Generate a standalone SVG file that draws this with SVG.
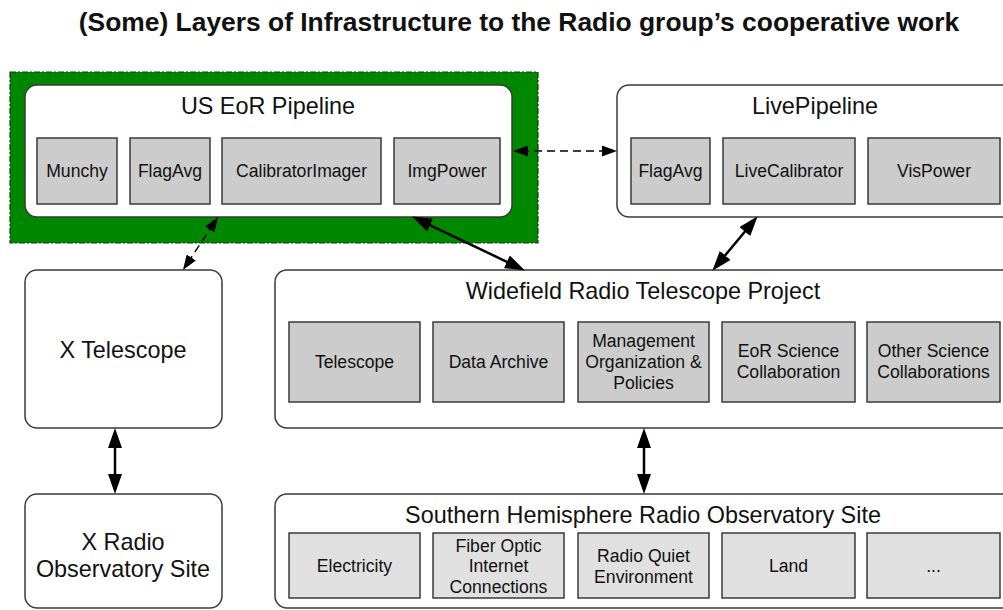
<svg xmlns="http://www.w3.org/2000/svg" width="1003" height="610" viewBox="0 0 1003 610">
  <style>
    text { font-family: "Liberation Sans", Arial, sans-serif; fill: #111; text-anchor: middle; }
    .title { font-size: 26.4px; font-weight: bold; }
    .head { font-size: 23.4px; }
    .item { font-size: 17.6px; }
    .layer { fill: #ffffff; stroke: #3a3a3a; stroke-width: 1.5; }
    .part { fill: #cccccc; stroke: #3a3a3a; stroke-width: 1.5; }
    .part-lt { fill: #e0e0e0; stroke: #3a3a3a; stroke-width: 1.5; }
    .link { fill: none; stroke: #000; stroke-width: 2.5; }
    .link-dash { fill: none; stroke: #000; stroke-width: 1.5; stroke-dasharray: 8 5; }
  </style>
  <defs>
    <marker id="arrow" viewBox="0 0 20 14" markerWidth="20" markerHeight="14" markerUnits="userSpaceOnUse" refX="9" refY="7" orient="auto-start-reverse">
      <path d="M0,0 L20,7 L0,14 z" fill="#000"/>
    </marker>
    <marker id="arrow-sm" viewBox="0 0 15 11" markerWidth="15" markerHeight="11" markerUnits="userSpaceOnUse" refX="7" refY="5.5" orient="auto-start-reverse">
      <path d="M0,0 L15,5.5 L0,11 z" fill="#000"/>
    </marker>
  </defs>

  <rect width="1003" height="610" fill="#ffffff"/>

  <text class="title" x="519" y="31">(Some) Layers of Infrastructure to the Radio group’s cooperative work</text>

  <!-- highlighted pipeline -->
  <g id="us-eor-pipeline">
    <rect x="10" y="72" width="528" height="171" fill="#008700" stroke="#163816" stroke-width="1.2" stroke-dasharray="6 2 2 2"/>
    <rect class="layer" x="25" y="85" width="487" height="132" rx="12"/>
    <text class="head" x="268" y="114">US EoR Pipeline</text>
    <rect class="part" x="37" y="138" width="80" height="66"/>
    <text class="item" x="77" y="177">Munchy</text>
    <rect class="part" x="130" y="138" width="80" height="66"/>
    <text class="item" x="170" y="177">FlagAvg</text>
    <rect class="part" x="222" y="138" width="159" height="66"/>
    <text class="item" x="301.5" y="177">CalibratorImager</text>
    <rect class="part" x="394" y="138" width="106" height="66"/>
    <text class="item" x="447" y="177">ImgPower</text>
  </g>

  <g id="live-pipeline">
    <rect class="layer" x="617" y="85" width="420" height="132" rx="12"/>
    <text class="head" x="815" y="114">LivePipeline</text>
    <rect class="part" x="631" y="138" width="79" height="66"/>
    <text class="item" x="670.5" y="177">FlagAvg</text>
    <rect class="part" x="723" y="138" width="132" height="66"/>
    <text class="item" x="789" y="177">LiveCalibrator</text>
    <rect class="part" x="868" y="138" width="132" height="66"/>
    <text class="item" x="934" y="177">VisPower</text>
  </g>

  <g id="x-telescope">
    <rect class="layer" x="25" y="270" width="197" height="158" rx="12"/>
    <text class="head" x="123" y="358">X Telescope</text>
  </g>

  <g id="widefield-project">
    <rect class="layer" x="275" y="270" width="760" height="158" rx="12"/>
    <text class="head" x="643" y="299">Widefield Radio Telescope Project</text>
    <rect class="part" x="289" y="322" width="131" height="80"/>
    <text class="item" x="354.5" y="368">Telescope</text>
    <rect class="part" x="433" y="322" width="131" height="80"/>
    <text class="item" x="498.5" y="368">Data Archive</text>
    <rect class="part" x="578" y="322" width="131" height="80"/>
    <text class="item" x="643.5" y="347">Management</text>
    <text class="item" x="643.5" y="368">Organization &amp;</text>
    <text class="item" x="643.5" y="389">Policies</text>
    <rect class="part" x="722" y="322" width="133" height="80"/>
    <text class="item" x="788.5" y="357">EoR Science</text>
    <text class="item" x="788.5" y="378">Collaboration</text>
    <rect class="part" x="867" y="322" width="133" height="80"/>
    <text class="item" x="933.5" y="357">Other Science</text>
    <text class="item" x="933.5" y="378">Collaborations</text>
  </g>

  <g id="x-radio-site">
    <rect class="layer" x="25" y="494" width="197" height="114" rx="12"/>
    <text class="head" x="123" y="550">X Radio</text>
    <text class="head" x="123" y="577">Observatory Site</text>
  </g>

  <g id="southern-site">
    <rect class="layer" x="275" y="494" width="760" height="114" rx="12"/>
    <text class="head" x="643" y="523">Southern Hemisphere Radio Observatory Site</text>
    <rect class="part-lt" x="289" y="533" width="131" height="65"/>
    <text class="item" x="354.5" y="572">Electricity</text>
    <rect class="part-lt" x="433" y="533" width="131" height="65"/>
    <text class="item" x="498.5" y="552">Fiber Optic</text>
    <text class="item" x="498.5" y="572">Internet</text>
    <text class="item" x="498.5" y="593">Connections</text>
    <rect class="part-lt" x="578" y="533" width="131" height="65"/>
    <text class="item" x="643.5" y="562">Radio Quiet</text>
    <text class="item" x="643.5" y="583">Environment</text>
    <rect class="part-lt" x="722" y="533" width="133" height="65"/>
    <text class="item" x="788.5" y="572">Land</text>
    <rect class="part-lt" x="867" y="533" width="133" height="65"/>
    <text class="item" x="933.5" y="572">...</text>
  </g>

  <g id="connectors">
    <line class="link-dash" x1="521" y1="151" x2="609" y2="151" marker-start="url(#arrow-sm)" marker-end="url(#arrow-sm)"/>
    <line class="link-dash" x1="213.6" y1="223.7" x2="187.4" y2="263.3" marker-start="url(#arrow-sm)" marker-end="url(#arrow-sm)"/>
    <line class="link" x1="422" y1="221.3" x2="515" y2="265.7" marker-start="url(#arrow)" marker-end="url(#arrow)"/>
    <line class="link" x1="750.6" y1="224.7" x2="719.4" y2="262.3" marker-start="url(#arrow)" marker-end="url(#arrow)"/>
    <line class="link" x1="115" y1="439" x2="115" y2="483" marker-start="url(#arrow)" marker-end="url(#arrow)"/>
    <line class="link" x1="644" y1="439" x2="644" y2="483" marker-start="url(#arrow)" marker-end="url(#arrow)"/>
  </g>
</svg>
